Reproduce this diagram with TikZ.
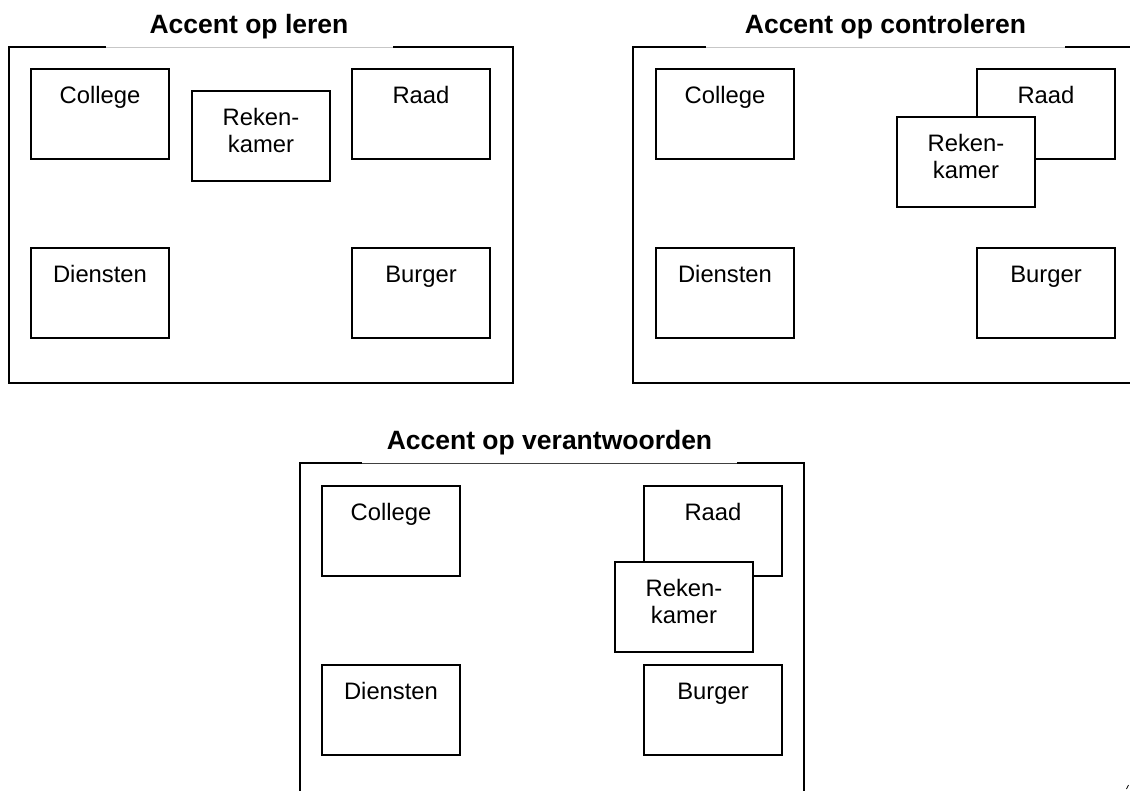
\documentclass[tikz,border=0pt]{standalone}
\usepackage{fontspec}
\setmainfont{Liberation Sans}
\usetikzlibrary{calc}
\tikzset{
 box/.style={draw, line width=1.8pt, fill=white, minimum width=138pt, minimum height=90pt, inner sep=0pt, outer sep=0pt},
 lbl/.style={anchor=base, inner sep=0pt, font=\fontsize{23.8}{26.7}\selectfont},
 ttl/.style={anchor=base, inner sep=0pt, font=\fontsize{26.5}{30}\selectfont\bfseries},
 frm/.style={line width=1.8pt, line cap=rect},
 gapA/.style={line width=0.8pt, draw=black!22},
 gapB/.style={line width=1pt, draw=black!75},
}
\newcommand\mkbox[4]{%
  \node[box] (#1) at (#2+69,#3+45) {};
  \node[lbl] (#1t) at ($(#1.north)+(0,34)$) {#4};}
\newcommand\mkrek[3]{%
  \node[box] (#1) at (#2+69,#3+45) {};
  \node[lbl] (#1a) at ($(#1.north)+(0,34)$) {Reken-};
  \node[lbl] (#1b) at ($(#1.north)+(0,61)$) {kamer};}
\begin{document}
\begin{tikzpicture}[x=1pt,y=-1pt]
\useasboundingbox (0,0) rectangle (1130,790);
% ---------- panel 1
\draw[gapA] (105,47) -- (394,47);
\draw[frm] (105,47) -- (9,47) -- (9,383) -- (513,383) -- (513,47) -- (394,47);
\node[ttl] (t1) at (249,33) {Accent op leren};
\mkbox{c1}{31}{69}{College}
\mkbox{r1}{352}{69}{Raad}
\mkbox{d1}{31}{248}{Diensten}
\mkbox{b1}{352}{248}{Burger}
\mkrek{k1}{192}{91}
% ---------- panel 2
\draw[gapA] (705,47) -- (1066,47);
\draw[frm] (705,47) -- (633,47) -- (633,383) -- (1132,383);
\draw[frm] (1066,47) -- (1132,47);
\node[ttl] (t2) at (885.5,33) {Accent op controleren};
\mkbox{c2}{656}{69}{College}
\mkbox{r2}{977}{69}{Raad}
\mkbox{d2}{656}{248}{Diensten}
\mkbox{b2}{977}{248}{Burger}
\mkrek{k2}{897}{117}
% ---------- panel 3
\draw[gapB] (361,463) -- (738,463);
\draw[frm] (361,463) -- (300,463) -- (300,795);
\draw[frm] (738,463) -- (804,463) -- (804,795);
\node[ttl] (t3) at (549.5,449) {Accent op verantwoorden};
\mkbox{c3}{322}{486}{College}
\mkbox{r3}{644}{486}{Raad}
\mkbox{d3}{322}{665}{Diensten}
\mkbox{b3}{644}{665}{Burger}
\mkrek{k3}{615}{562}
% small mark
\draw[line width=0.8pt] (1126.5,789) -- (1128.5,785);
\end{tikzpicture}
\end{document}
